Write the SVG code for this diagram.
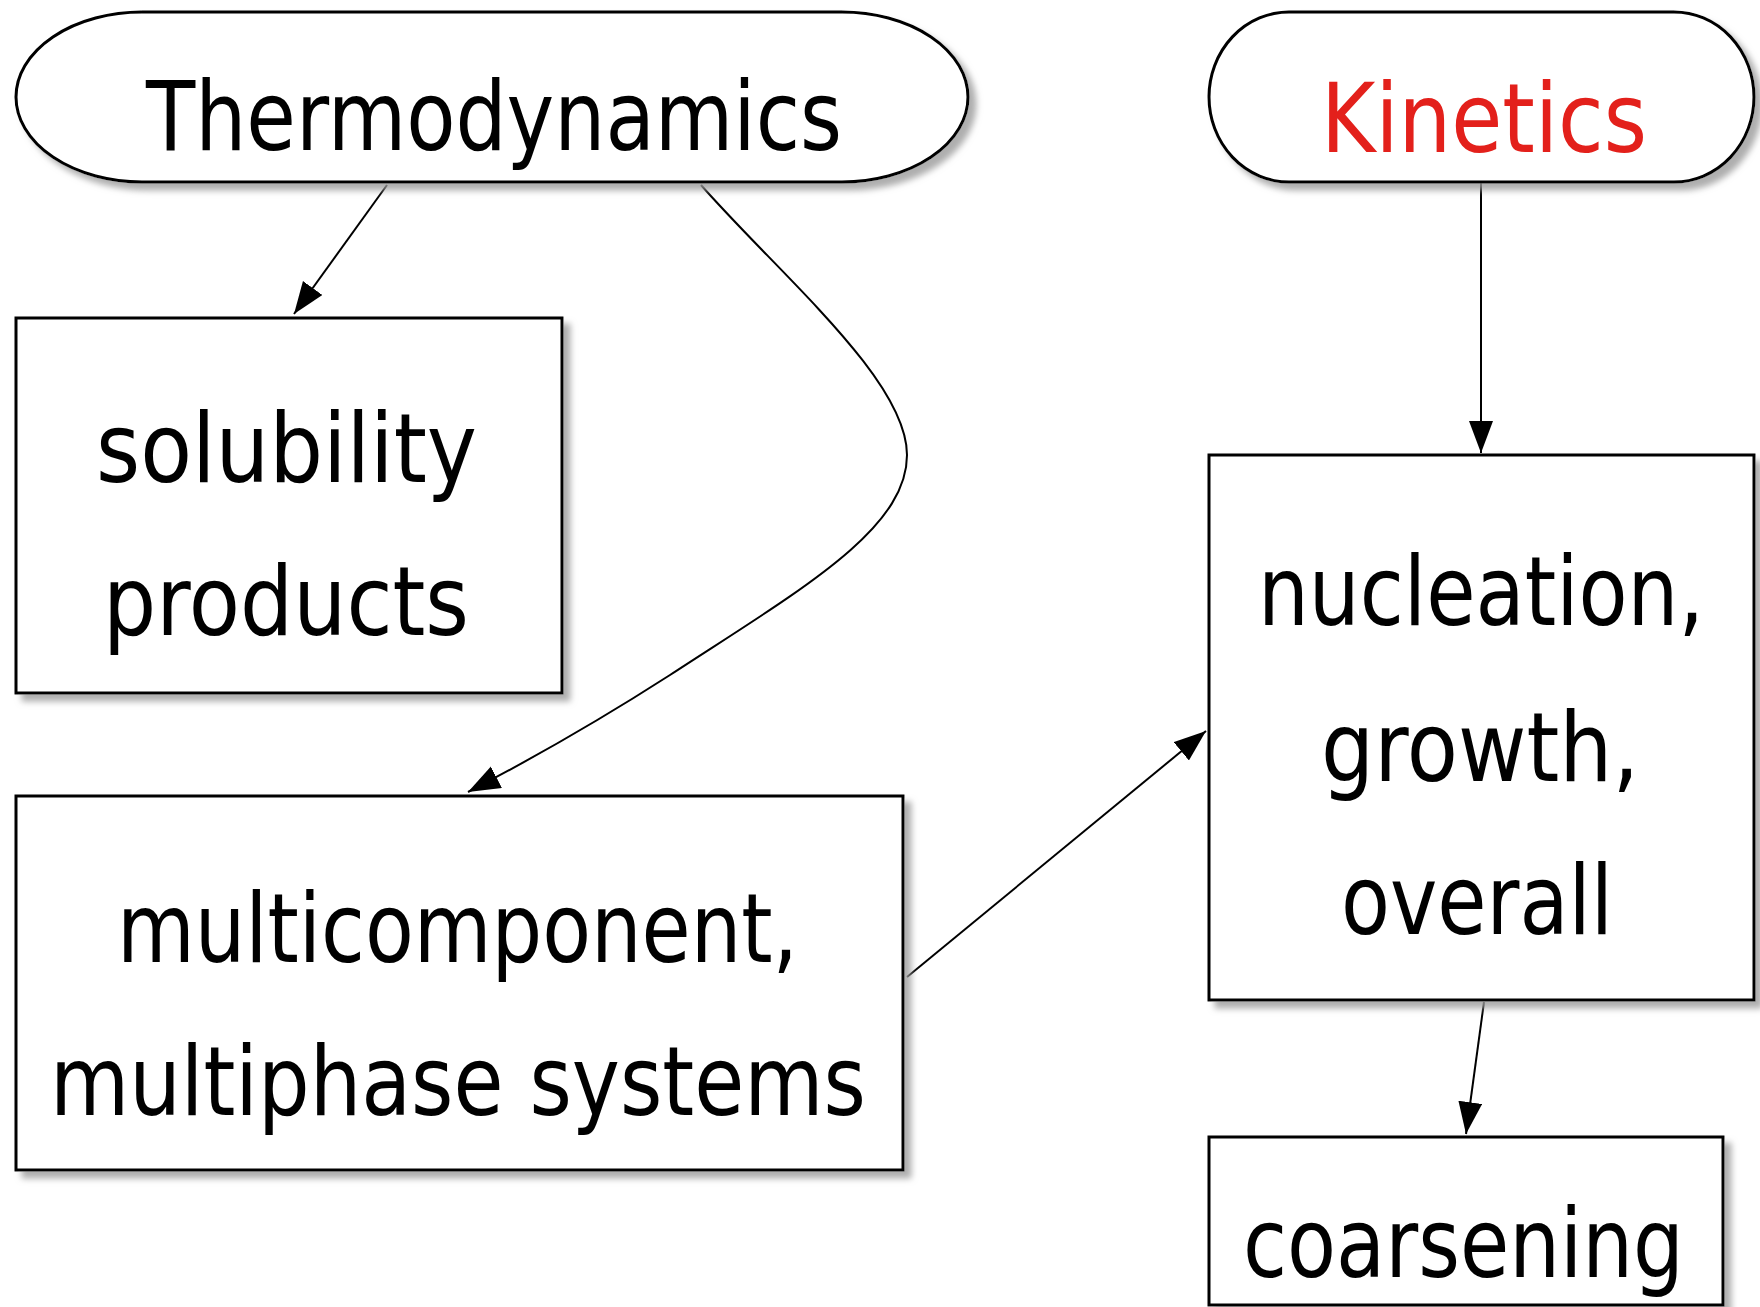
<svg xmlns="http://www.w3.org/2000/svg" width="1760" height="1307" viewBox="0 0 1760 1307">
  <style>
    .node { fill: #ffffff; stroke: #000000; stroke-width: 3; filter: url(#shadow); }
    .lbl { font-family: "DejaVu Sans", "Liberation Sans", sans-serif; font-size: 96px; fill: #000000; }
    .red { fill: #e3201b; }
    .edge { fill: none; stroke: #000000; stroke-width: 2; marker-end: url(#arrow); }
  </style>
  <defs>
    <filter id="shadow" x="-10%" y="-10%" width="130%" height="130%">
      <feOffset in="SourceAlpha" dx="7" dy="7" result="o"/>
      <feGaussianBlur in="o" stdDeviation="3" result="b"/>
      <feFlood flood-color="#9a9a9a" flood-opacity="0.8"/>
      <feComposite in2="b" operator="in" result="s"/>
      <feMerge>
        <feMergeNode in="s"/>
        <feMergeNode in="SourceGraphic"/>
      </feMerge>
    </filter>
    <marker id="arrow" markerUnits="userSpaceOnUse" markerWidth="34" markerHeight="26" refX="32" refY="12" orient="auto">
      <path d="M0,0 L32,12 L0,24 z" fill="#000000"/>
    </marker>
  </defs>

  <g id="connectors">
    <path class="edge" d="M387,185 L294,314"/>
    <path class="edge" d="M701,185 C780,275 907,380 907,455 C907,530 800,590 670,675 C600,720 520,765 468,792"/>
    <path class="edge" d="M1481,182 L1481,453"/>
    <path class="edge" d="M907,977 L1206,731"/>
    <path class="edge" d="M1484,1002 L1466,1134"/>
  </g>

  <g id="thermodynamics">
    <rect class="node" x="16" y="12" width="952" height="170" rx="126" ry="85"/>
    <text class="lbl" x="146" y="150" textLength="696" lengthAdjust="spacingAndGlyphs">Thermodynamics</text>
  </g>

  <g id="kinetics">
    <rect class="node" x="1209" y="12" width="545" height="170" rx="80" ry="85"/>
    <text class="lbl red" x="1321" y="152" textLength="326" lengthAdjust="spacingAndGlyphs">Kinetics</text>
  </g>

  <g id="solubility">
    <rect class="node" x="16" y="318" width="546" height="375"/>
    <text class="lbl" x="96" y="482" textLength="381" lengthAdjust="spacingAndGlyphs">solubility</text>
    <text class="lbl" x="103" y="635" textLength="366" lengthAdjust="spacingAndGlyphs">products</text>
  </g>

  <g id="multicomponent">
    <rect class="node" x="16" y="796" width="887" height="374"/>
    <text class="lbl" x="117" y="962" textLength="681" lengthAdjust="spacingAndGlyphs">multicomponent,</text>
    <text class="lbl" x="50" y="1115" textLength="816" lengthAdjust="spacingAndGlyphs">multiphase systems</text>
  </g>

  <g id="nucleation">
    <rect class="node" x="1209" y="455" width="545" height="545"/>
    <text class="lbl" x="1258" y="625" textLength="446" lengthAdjust="spacingAndGlyphs">nucleation,</text>
    <text class="lbl" x="1321" y="781" textLength="318" lengthAdjust="spacingAndGlyphs">growth,</text>
    <text class="lbl" x="1341" y="934" textLength="272" lengthAdjust="spacingAndGlyphs">overall</text>
  </g>

  <g id="coarsening">
    <rect class="node" x="1209" y="1137" width="514" height="168"/>
    <text class="lbl" x="1243" y="1277" textLength="441" lengthAdjust="spacingAndGlyphs">coarsening</text>
  </g>
</svg>
